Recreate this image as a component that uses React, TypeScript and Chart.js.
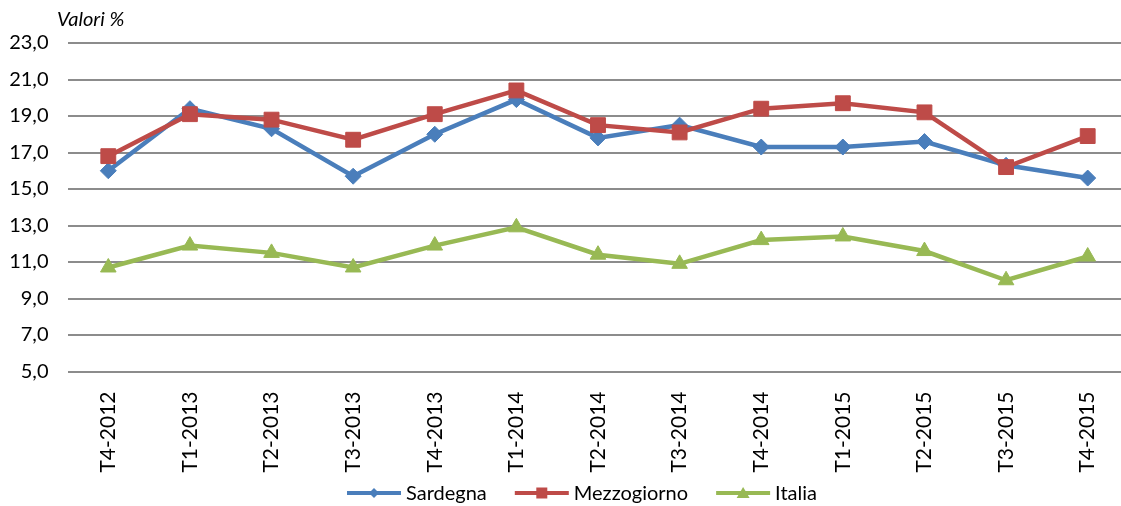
import React, { useEffect, useRef } from 'react';
import { Chart, registerables } from 'chart.js';
Chart.register(...registerables);

const categories = ['T4-2012', 'T1-2013', 'T2-2013', 'T3-2013', 'T4-2013', 'T1-2014', 'T2-2014', 'T3-2014', 'T4-2014', 'T1-2015', 'T2-2015', 'T3-2015', 'T4-2015'];
const sardegna = [16.0, 19.4, 18.3, 15.7, 18.0, 19.9, 17.8, 18.5, 17.3, 17.3, 17.6, 16.3, 15.6];
const mezzogiorno = [16.8, 19.1, 18.8, 17.7, 19.1, 20.4, 18.5, 18.1, 19.4, 19.7, 19.2, 16.2, 17.9];
const italia = [10.7, 11.9, 11.5, 10.7, 11.9, 12.9, 11.4, 10.9, 12.2, 12.4, 11.6, 10.0, 11.3];
const seriesNames = ['Sardegna', 'Mezzogiorno', 'Italia'];
const yMin = 5;
const yMax = 23;
const yStep = 2;
const yAxisTitle = 'Valori %';

const FONT = 'Lato';
const COLORS = ['#4A7EBB', '#BE4B48', '#98B954'];
const SHAPES = ['diamond', 'square', 'triangle'];

function drawMarker(ctx: CanvasRenderingContext2D, shape: string, x: number, y: number, color: string) {
  ctx.fillStyle = color;
  ctx.beginPath();
  if (shape === 'diamond') {
    const r = 5;
    ctx.moveTo(x, y - r);
    ctx.lineTo(x + r, y);
    ctx.lineTo(x, y + r);
    ctx.lineTo(x - r, y);
  } else if (shape === 'square') {
    const s = 5.5;
    ctx.rect(x - s, y - s, 2 * s, 2 * s);
  } else {
    const w = 6.5;
    ctx.moveTo(x, y - 6);
    ctx.lineTo(x + w, y + 5);
    ctx.lineTo(x - w, y + 5);
  }
  ctx.closePath();
  ctx.fill();
}

export default function App() {
  const ref = useRef<HTMLCanvasElement>(null);
  useEffect(() => {
    const fmt = (v: number) => v.toFixed(1).replace('.', ',');
    const extras = {
      id: 'extras',
      afterDraw(chart: any) {
        const ctx: CanvasRenderingContext2D = chart.ctx;
        ctx.save();
        ctx.fillStyle = '#000';
        ctx.font = `italic 20px ${FONT}`;
        ctx.textAlign = 'left';
        ctx.textBaseline = 'alphabetic';
        ctx.fillText(yAxisTitle, 57, 26);
        ctx.font = `20px ${FONT}`;
        ctx.textBaseline = 'middle';
        const lineW = 54;
        const gapText = 5;
        const gapItem = 28;
        const widths = seriesNames.map((n) => ctx.measureText(n).width);
        let total = 0;
        widths.forEach((w, i) => {
          total += lineW + gapText + w + (i < widths.length - 1 ? gapItem : 0);
        });
        let x = 582 - total / 2;
        const y = 493;
        seriesNames.forEach((name, i) => {
          ctx.strokeStyle = COLORS[i];
          ctx.lineWidth = 4;
          ctx.beginPath();
          ctx.moveTo(x, y);
          ctx.lineTo(x + lineW, y);
          ctx.stroke();
          drawMarker(ctx, SHAPES[i], x + lineW / 2, y, COLORS[i]);
          ctx.fillStyle = '#000';
          ctx.fillText(name, x + lineW + gapText, y + 1);
          x += lineW + gapText + widths[i] + gapItem;
        });
        ctx.restore();
      },
    };
    const mk = (label: string, data: number[], i: number, style: string, radius: number) => ({
      label,
      data,
      borderColor: COLORS[i],
      backgroundColor: COLORS[i],
      pointBackgroundColor: COLORS[i],
      pointBorderColor: COLORS[i],
      pointBorderWidth: 1,
      pointStyle: style,
      pointRadius: radius,
      borderWidth: 4.5,
      tension: 0,
      fill: false,
    });
    const chart = new Chart(ref.current as HTMLCanvasElement, {
      type: 'line',
      data: {
        labels: categories,
        datasets: [
          mk(seriesNames[1], mezzogiorno, 1, 'rect', 10.5),
          mk(seriesNames[0], sardegna, 0, 'rectRot', 8),
          mk(seriesNames[2], italia, 2, 'triangle', 9),
        ],
      },
      options: {
        responsive: false,
        animation: false,
        devicePixelRatio: 1,
        layout: { padding: { top: 43, right: 10.8, bottom: 0, left: 0 } },
        plugins: {
          legend: { display: false },
          tooltip: { enabled: false },
          title: { display: false },
        },
        scales: {
          x: {
            offset: true,
            grid: { display: false },
            border: { display: false },
            afterFit(scale: any) {
              scale.height = 134.5;
            },
            ticks: {
              autoSkip: false,
              minRotation: 90,
              maxRotation: 90,
              padding: 12,
              color: '#000',
              font: { family: FONT, size: 21 },
            },
          },
          y: {
            min: yMin,
            max: yMax,
            border: { display: false },
            grid: { color: '#8c8c8c', lineWidth: 2, drawTicks: false },
            afterFit(scale: any) {
              scale.width = 67.5;
            },
            ticks: {
              stepSize: yStep,
              padding: 19,
              color: '#000',
              font: { family: FONT, size: 20 },
              callback: (v: any) => fmt(Number(v)),
            },
          },
        },
      },
      plugins: [extras],
    } as any);
    return () => chart.destroy();
  }, []);
  return (
    <div style={{ position: 'fixed', left: 0, top: 0, width: 1140, height: 506, background: '#fff' }}>
      <canvas ref={ref} width={1140} height={506} style={{ display: 'block', width: 1140, height: 506 }} />
    </div>
  );
}
